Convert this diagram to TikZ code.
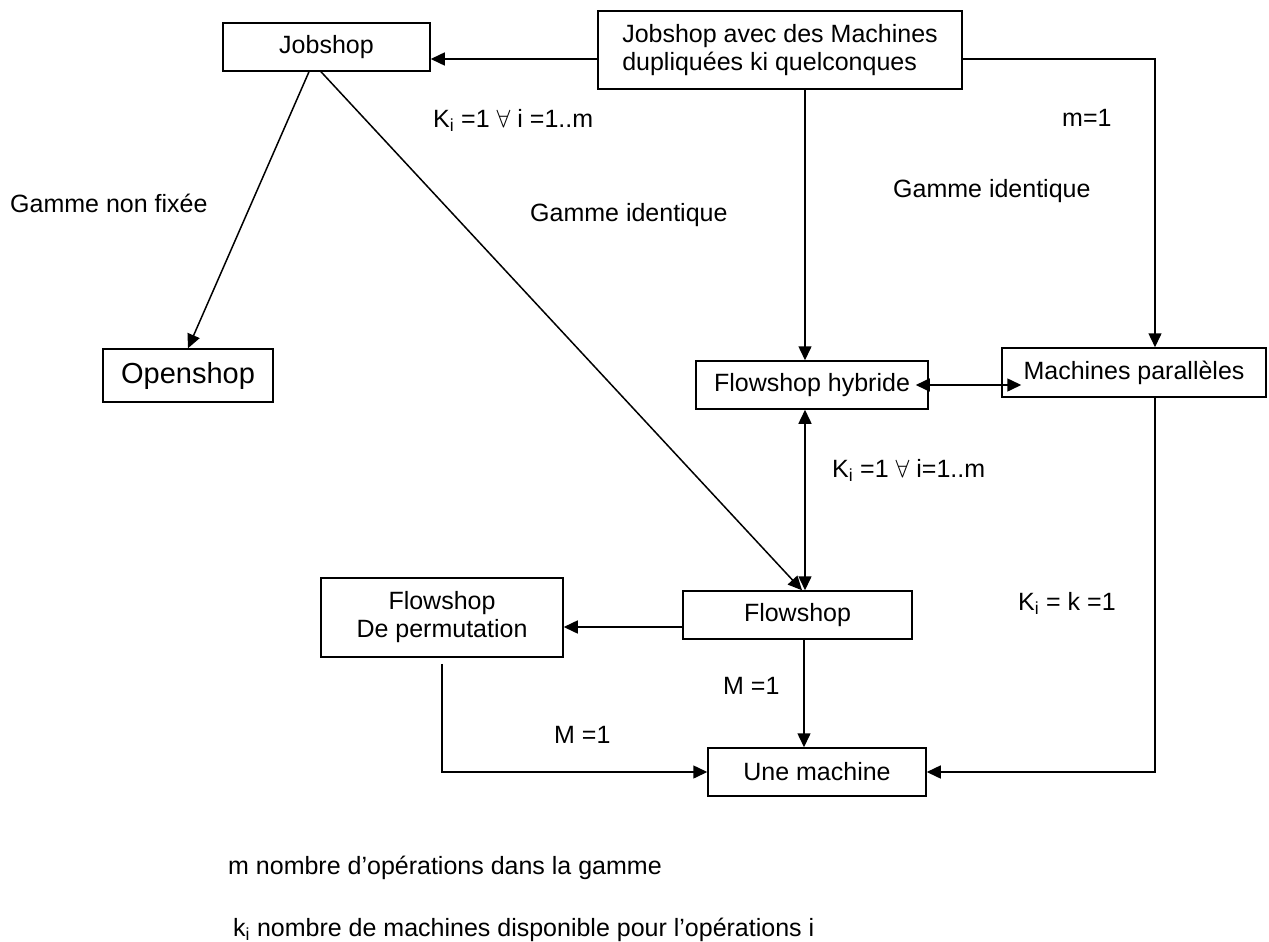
\documentclass[tikz,border=0pt]{standalone}
\usepackage{fontspec}
\setmainfont{Liberation Sans}
\usetikzlibrary{arrows.meta}

\tikzset{
  boite/.style={draw, line width=1.5pt, inner sep=0pt, align=center},
  fleche/.style={-{Triangle[length=14pt,width=13pt]}, line width=1.5pt},
  dfleche/.style={{Triangle[length=14pt,width=13pt]}-{Triangle[length=14pt,width=13pt]}, line width=1.5pt},
  etiq/.style={anchor=west, inner sep=0pt}
}

\begin{document}
\begin{tikzpicture}[x=1pt, y=-1pt, font=\fontsize{25}{28}\selectfont]
\useasboundingbox (0,0) rectangle (1269,942);

% boites
\node[boite, minimum width=207pt, minimum height=48pt] (jobshop) at (326.5,47) {Jobshop};
\node[boite, minimum width=364pt, minimum height=78pt, align=left] (jsdup) at (780,50) {Jobshop avec des Machines\\dupliquées ki quelconques};
\node[boite, minimum width=170pt, minimum height=53pt, font=\fontsize{29}{32}\selectfont] (openshop) at (188,375.5) {Openshop};
\node[boite, minimum width=232pt, minimum height=48pt] (hybride) at (812,385) {Flowshop hybride};
\node[boite, minimum width=264pt, minimum height=49pt] (paral) at (1134,372.5) {Machines parallèles};
\node[boite, minimum width=229pt, minimum height=48pt] (flowshop) at (797.5,615) {Flowshop};
\node[boite, minimum width=242pt, minimum height=79pt] (permut) at (442,617.5) {Flowshop\\De permutation};
\node[boite, minimum width=218pt, minimum height=48pt] (unemach) at (817,772) {Une machine};

% fleches
\draw[fleche] ([yshift=-9pt]jsdup.west) -- ([yshift=-9pt]jsdup.west -| jobshop.east);
\draw[fleche] ([yshift=-9pt]jsdup.east) -| ([xshift=21pt]paral.north);
\draw[fleche] ([xshift=25pt]jsdup.south) -- ([xshift=25pt]jsdup.south |- hybride.north);
\draw[fleche] ([xshift=-17.5pt]jobshop.south) -- (openshop.north);
\draw[fleche] ([xshift=-5.5pt]jobshop.south) -- ([xshift=4.5pt]flowshop.north);
\draw[dfleche] ([xshift=-7pt]hybride.south) -- ([xshift=-7pt]hybride.south |- flowshop.north);
\draw[dfleche] ([xshift=-13pt]hybride.east) -- ([xshift=20pt]paral.west |- hybride.east);
\draw[fleche] ([yshift=-12pt]flowshop.west) -- ([yshift=-12pt]flowshop.west -| permut.east);
\draw[fleche] ([xshift=6.5pt]flowshop.south) -- ([xshift=6.5pt]flowshop.south |- unemach.north);
\draw[fleche] ([yshift=-6pt]permut.south) |- (unemach.west);
\draw[fleche] ([xshift=21pt]paral.south) |- (unemach.east);

% etiquettes
\node[etiq] (kjob) at (433,120) {K\textsubscript{i} =1 $\forall$ i =1..m};
\node[etiq] (gnf) at (10,203) {Gamme non fixée};
\node[etiq] (gid1) at (530,215) {Gamme identique};
\node[etiq] (mun) at (1062,118) {m=1};
\node[etiq] (gid2) at (893,191) {Gamme identique};
\node[etiq] (khyb) at (832,470) {K\textsubscript{i} =1 $\forall$ i=1..m};
\node[etiq] (kk) at (1018,603) {K\textsubscript{i} = k =1};
\node[etiq] (mflow) at (723,686) {M =1};
\node[etiq] (mperm) at (554,735) {M =1};

% legende
\node[etiq] (legm) at (228,868) {m nombre d’opérations dans la gamme};
\node[etiq] (legk) at (233,930) {k\textsubscript{i} nombre de machines disponible pour l’opérations i};
\end{tikzpicture}
\end{document}
